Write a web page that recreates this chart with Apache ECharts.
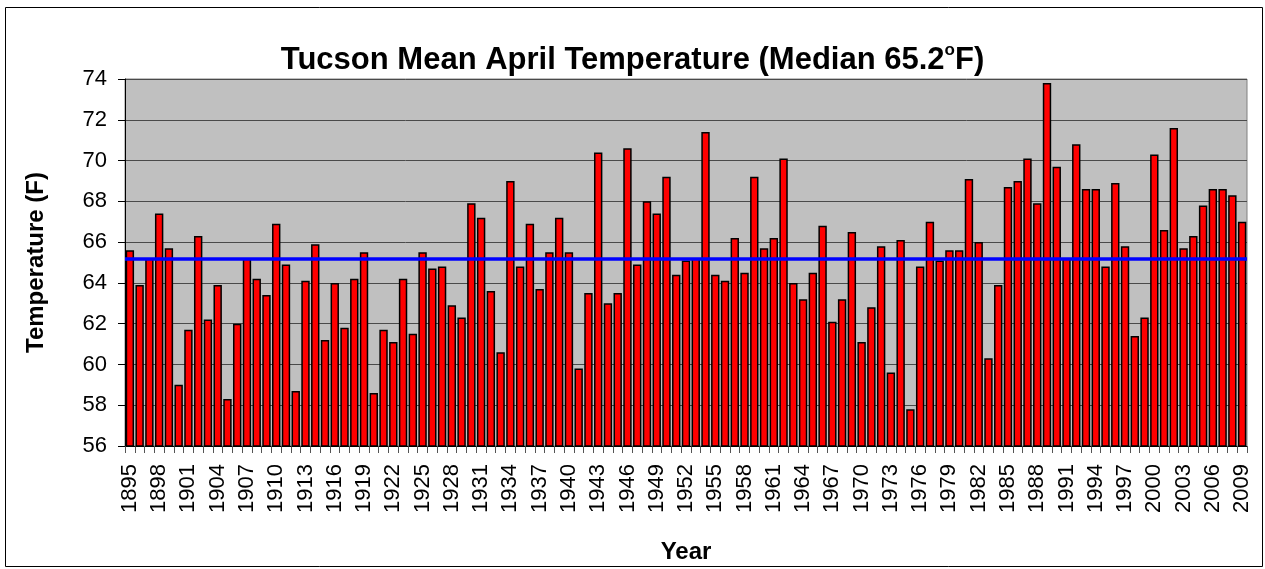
<!DOCTYPE html>
<html>
<head>
<meta charset="utf-8">
<script src="https://cdn.jsdelivr.net/npm/echarts@6/dist/echarts.min.js"></script>
<style>
html,body{margin:0;padding:0;background:#fff;}
#chart{width:1265px;height:569px;}
</style>
</head>
<body>
<div id="chart"></div>
<script>
const years = [];
for (let y = 1895; y <= 2009; y++) years.push(String(y));

const temps1895_1914 = [65.6, 63.9, 65.2, 67.4, 65.7, 59.0, 61.7, 66.3, 62.2, 63.9,
                        58.3, 62.0, 65.2, 64.2, 63.4, 66.9, 64.9, 58.7, 64.1, 65.9];
const temps1915_1935 = [61.2, 64.0, 61.8, 64.2, 65.5, 58.6, 61.7, 61.1, 64.2, 61.5,
                        65.5, 64.7, 64.8, 62.9, 62.3, 67.9, 67.2, 63.6, 60.6, 69.0, 64.8];
const temps1936_1955 = [66.9, 63.7, 65.5, 67.2, 65.5, 59.8, 63.5, 70.4, 63.0, 63.5,
                        70.6, 64.9, 68.0, 67.4, 69.2, 64.4, 65.1, 65.2, 71.4, 64.4];
const temps1956_1976 = [64.1, 66.2, 64.5, 69.2, 65.7, 66.2, 70.1, 64.0, 63.2, 64.5,
                        66.8, 62.1, 63.2, 66.5, 61.1, 62.8, 65.8, 59.6, 66.1, 57.8, 64.8];
const temps1977_1996 = [67.0, 65.1, 65.6, 65.6, 69.1, 66.0, 60.3, 63.9, 68.7, 69.0,
                        70.1, 67.9, 73.8, 69.7, 65.2, 70.8, 68.6, 68.6, 64.8, 68.9];
const temps1997_2009 = [65.8, 61.4, 62.3, 70.3, 66.6, 71.6, 65.7, 66.3, 67.8, 68.6,
                        68.6, 68.3, 67.0];

const temps = [].concat(temps1895_1914, temps1915_1935, temps1936_1955,
                        temps1956_1976, temps1977_1996, temps1997_2009);
const medianValue = 65.2;
const yMin = 56, yMax = 74, yStep = 2;

const FONT = 'Liberation Sans, Arial, sans-serif';
const chart = echarts.init(document.getElementById('chart'), null, {renderer: 'canvas'});
chart.setOption({
  animation: false,
  backgroundColor: '#ffffff',
  title: {
    text: '{t|Tucson Mean April Temperature (Median 65.2}{s|o}{t|F)}',
    left: 'center',
    top: 37,
    textStyle: {
      rich: {
        t: {fontFamily: FONT, fontWeight: 'bold', fontSize: 31, color: '#000', lineHeight: 36},
        s: {fontFamily: FONT, fontWeight: 'bold', fontSize: 17, color: '#000', verticalAlign: 'top', lineHeight: 20}
      }
    }
  },
  graphic: [{
    type: 'rect',
    shape: {x: 5.5, y: 7.5, width: 1257, height: 559},
    style: {fill: 'none', stroke: '#000', lineWidth: 1},
    silent: true
  }],
  grid: {
    left: 125, right: 18, top: 79, bottom: 115,
    show: true, backgroundColor: '#C0C0C0', borderColor: '#808080', borderWidth: 1
  },
  xAxis: {
    type: 'category',
    data: years,
    name: 'Year',
    nameLocation: 'middle',
    nameGap: 94,
    nameTextStyle: {fontFamily: FONT, fontWeight: 'bold', fontSize: 24, color: '#000'},
    axisLine: {lineStyle: {color: '#000', width: 1}},
    axisTick: {show: true, interval: 0, length: 7, lineStyle: {color: '#555'}},
    axisLabel: {interval: 2, rotate: 90, fontFamily: FONT, fontSize: 22, color: '#000', margin: 18},
    splitLine: {show: false}
  },
  yAxis: {
    type: 'value',
    min: yMin, max: yMax, interval: yStep,
    name: 'Temperature (F)',
    nameLocation: 'middle',
    nameGap: 77,
    nameTextStyle: {fontFamily: FONT, fontWeight: 'bold', fontSize: 24, color: '#000'},
    axisLine: {show: true, lineStyle: {color: '#000', width: 1}},
    axisTick: {show: true, length: 7, lineStyle: {color: '#000'}},
    axisLabel: {fontFamily: FONT, fontSize: 22, color: '#000', margin: 18},
    splitLine: {show: true, lineStyle: {color: '#4a4a4a', width: 1}}
  },
  series: [{
    type: 'bar',
    data: temps,
    barCategoryGap: '14%',
    itemStyle: {color: '#FF0000', borderColor: '#000', borderWidth: 1.5},
    markLine: {
      silent: true,
      symbol: 'none',
      label: {show: false},
      lineStyle: {color: '#0000FF', width: 3.5, type: 'solid'},
      data: [{yAxis: medianValue}]
    }
  }]
});
</script>
</body>
</html>
